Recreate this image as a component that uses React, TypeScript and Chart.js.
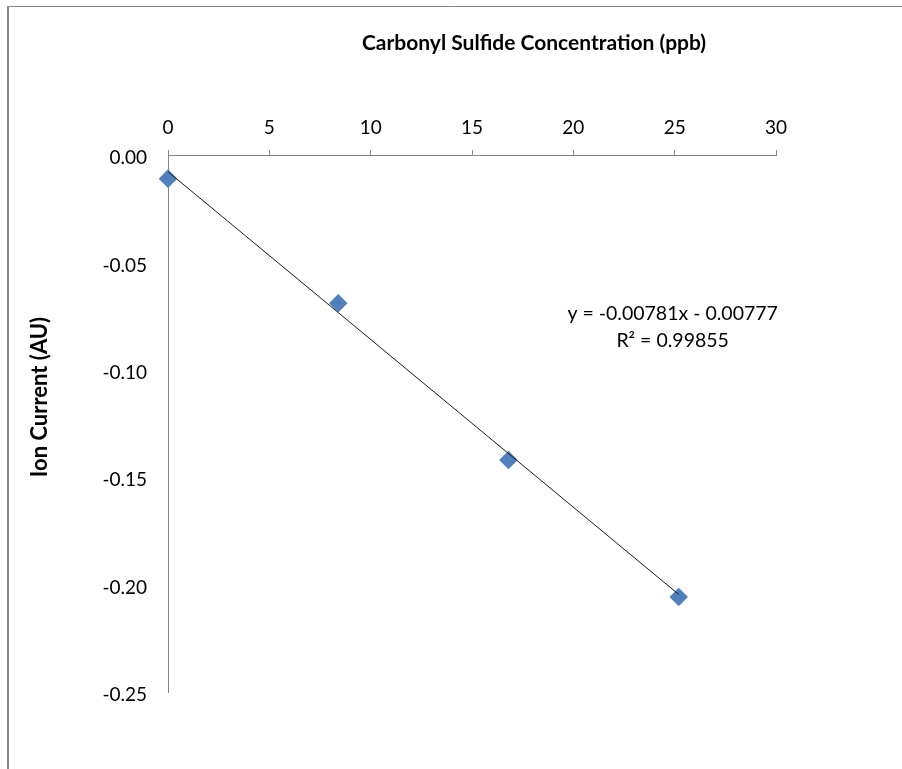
import React, { useEffect, useRef } from "react";
import { Chart, registerables } from "chart.js";

Chart.register(...registerables);

const concentrations = [0, 8.4, 16.8, 25.2];
const ionCurrent = [-0.011, -0.069, -0.142, -0.2058];
const trendX = [0, 25.2];
const trendY = [-0.00777, -0.20458];
const xTitle = "Carbonyl Sulfide Concentration (ppb)";
const yTitle = "Ion Current (AU)";
const equationLines = ["y = -0.00781x - 0.00777", "R\u00B2 = 0.99855"];

const FONT = "Lato, 'Open Sans', sans-serif";

const decorPlugin = {
  id: "decor",
  beforeDraw(chart: any) {
    const ctx = chart.ctx;
    ctx.save();
    ctx.fillStyle = "#ffffff";
    ctx.fillRect(0, 0, chart.width, chart.height);
    ctx.strokeStyle = "#868686";
    ctx.lineWidth = 1;
    ctx.beginPath();
    ctx.moveTo(7, 6.5);
    ctx.lineTo(chart.width, 6.5);
    ctx.stroke();
    ctx.lineWidth = 2;
    ctx.beginPath();
    ctx.moveTo(8, 6);
    ctx.lineTo(8, chart.height);
    ctx.stroke();
    ctx.restore();
  },
  afterDraw(chart: any) {
    const ctx = chart.ctx;
    ctx.save();
    ctx.fillStyle = "#000000";
    ctx.textAlign = "center";
    ctx.textBaseline = "middle";
    ctx.font = `bold 21px ${FONT}`;
    ctx.fillText(xTitle, 534, 43);
    ctx.save();
    ctx.translate(40, 397);
    ctx.rotate(-Math.PI / 2);
    ctx.font = `bold 22px ${FONT}`;
    ctx.fillText(yTitle, 0, 0);
    ctx.restore();
    ctx.font = `19.5px ${FONT}`;
    const xs = chart.scales.x;
    const ys = chart.scales.y;
    const cx = xs.getPixelForValue(24.9);
    const cy = ys.getPixelForValue(-0.0735);
    ctx.fillText(equationLines[0], cx, cy + 1);
    ctx.fillText(equationLines[1], cx, cy + 28);
    ctx.restore();
  },
};

export default function App() {
  const ref = useRef<HTMLCanvasElement | null>(null);
  useEffect(() => {
    document.body.style.margin = "0";
    const canvas = ref.current!;
    const chart = new Chart(canvas, {
      type: "scatter",
      data: {
        datasets: [
          {
            type: "line",
            label: "Trend",
            data: trendX.map((x, i) => ({ x, y: trendY[i] })),
            borderColor: "#1a1a1a",
            borderWidth: 1,
            pointRadius: 0,
            fill: false,
            order: 0,
            clip: false as any,
          },
          {
            label: "COS",
            data: concentrations.map((x, i) => ({ x, y: ionCurrent[i] })),
            pointStyle: "rectRot",
            pointRadius: 9.3,
            pointHoverRadius: 9.3,
            backgroundColor: "#4F81BD",
            borderColor: "#4F81BD",
            borderWidth: 0,
            order: 1,
            clip: false as any,
          },
        ],
      },
      plugins: [decorPlugin],
      options: {
        animation: false,
        responsive: false,
        maintainAspectRatio: false,
        layout: { padding: { left: 68, top: 95, right: 126, bottom: 77 } },
        plugins: {
          legend: { display: false },
          tooltip: { enabled: false },
        },
        scales: {
          x: {
            type: "linear",
            position: "top",
            min: 0,
            max: 30,
            ticks: {
              stepSize: 5,
              color: "#000",
              font: { family: FONT, size: 19 },
              padding: 11,
            },
            grid: {
              drawOnChartArea: false,
              drawTicks: true,
              tickLength: 5,
              color: "#868686",
            },
            border: { color: "#868686", width: 1 },
            afterFit(scale: any) {
              scale.height = 60;
            },
          },
          y: {
            type: "linear",
            min: -0.25,
            max: 0,
            ticks: {
              stepSize: 0.05,
              color: "#000",
              font: { family: FONT, size: 19 },
              padding: 21,
              labelOffset: 3,
              callback: (v: any) => Number(v).toFixed(2),
            },
            grid: { display: false, drawTicks: false },
            border: { color: "#868686", width: 1 },
            afterFit(scale: any) {
              scale.width = 100;
            },
          },
        },
      },
    });
    return () => chart.destroy();
  }, []);
  return (
    <div style={{ position: "absolute", left: 0, top: 0, width: 902, height: 769 }}>
      <canvas ref={ref} width={902} height={769} />
    </div>
  );
}
